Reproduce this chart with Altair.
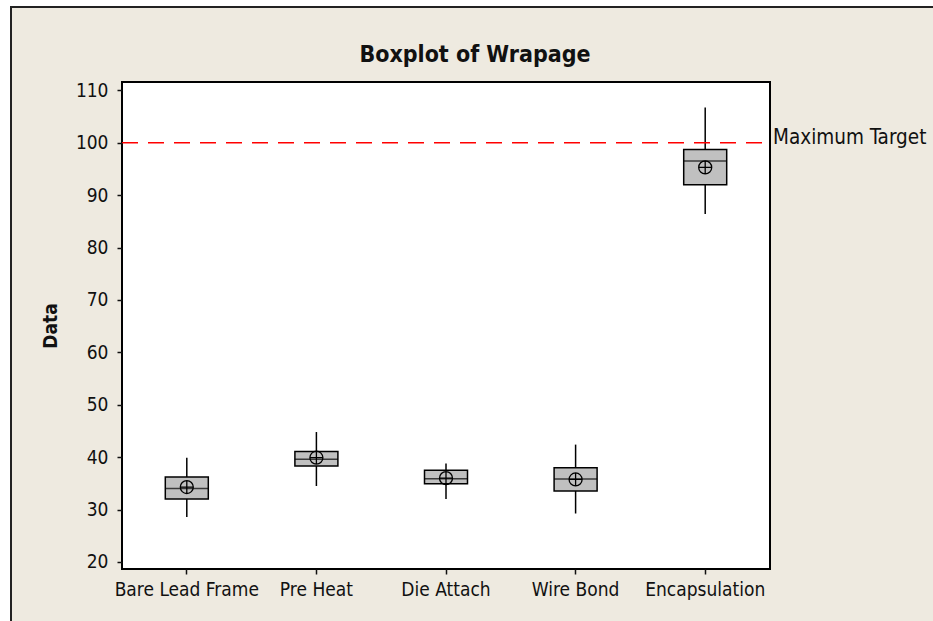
import altair as alt
import pandas as pd

# Warpage by process stage
stages = ["Bare Lead Frame", "Pre Heat", "Die Attach", "Wire Bond", "Encapsulation"]
whisker_low = [28.6, 34.5, 32.0, 29.25, 86.4]
q1 = [32.0, 38.3, 34.95, 33.55, 92.0]
median = [34.0, 39.6, 35.9, 35.85, 96.5]
q3 = [36.2, 41.1, 37.5, 38.0, 98.7]
whisker_high = [39.9, 44.8, 38.8, 42.4, 106.75]
mean = [34.3, 39.9, 36.0, 35.75, 95.3]
y_ticks = [20, 30, 40, 50, 60, 70, 80, 90, 100, 110]
target = 100
title_text = "Boxplot of Wrapage"
target_text = "Maximum Target"

W, H = 648, 487
PAD = {"left": 122, "top": 82, "right": 163, "bottom": 52}

LABEL_FONT = "DejaVu Sans Condensed, DejaVu Sans"
CREAM = "#EEEAE0"
INK = "#111111"

df = pd.DataFrame({
    "stage": stages,
    "low": whisker_low,
    "q1": q1,
    "median": median,
    "q3": q3,
    "high": whisker_high,
    "mean": mean,
})
one = pd.DataFrame({"k": [0]})

x_scale = alt.Scale(domain=stages, paddingInner=0, paddingOuter=0)
y_scale = alt.Scale(domain=[18.66, 111.6], nice=False, zero=False)

x_axis = alt.Axis(
    title=None, labelAngle=0, labelFont=LABEL_FONT, labelFontSize=19,
    labelColor=INK, labelPadding=6, tickSize=5, tickWidth=1.5, tickColor=INK,
    domain=False, grid=False, zindex=2,
)
y_axis = alt.Axis(
    title="Data", titleFont=LABEL_FONT, titleFontSize=19, titleFontWeight="bold",
    titleColor=INK, titleAngle=-90, titleX=-72, titleY=H / 2,
    titleBaseline="middle", titleAlign="center",
    values=y_ticks, labelFont=LABEL_FONT, labelFontSize=19, labelColor=INK,
    labelPadding=9, tickSize=5, tickWidth=1.5, tickColor=INK,
    domain=False, grid=False, zindex=2,
)

# page panel and frame
panel = alt.Chart(one).mark_rect(fill=CREAM).encode(
    x=alt.value(-112), x2=alt.value(W + PAD["right"]),
    y=alt.value(-76), y2=alt.value(H + PAD["bottom"]),
)
panel_left = alt.Chart(one).mark_rule(color="#222", strokeWidth=2).encode(
    x=alt.value(-111), y=alt.value(-76), y2=alt.value(H + PAD["bottom"]),
)
panel_top = alt.Chart(one).mark_rule(color="#222", strokeWidth=2).encode(
    x=alt.value(-112), x2=alt.value(W + PAD["right"]), y=alt.value(-75),
)
plot_bg = alt.Chart(one).mark_rect(fill="white", stroke="#000", strokeWidth=2).encode(
    x=alt.value(0), x2=alt.value(W), y=alt.value(0), y2=alt.value(H),
)
title = alt.Chart(one).mark_text(
    text=title_text, align="center", baseline="alphabetic",
    font=LABEL_FONT, fontSize=23, fontWeight="bold", color=INK,
).encode(x=alt.value(W / 2 + 29), y=alt.value(-20))

base = alt.Chart(df)
whiskers = base.mark_rule(color="#000", strokeWidth=1.5).encode(
    x=alt.X("stage:N", scale=x_scale, axis=x_axis, sort=stages),
    y=alt.Y("low:Q", scale=y_scale, axis=y_axis),
    y2="high:Q",
)
boxes = base.mark_bar(size=43, fill="#C0C0C0", stroke="#000", strokeWidth=1.5).encode(
    x=alt.X("stage:N", sort=stages),
    y="q1:Q",
    y2="q3:Q",
)
medians = base.mark_tick(size=43, thickness=1.5, color="#000").encode(
    x=alt.X("stage:N", sort=stages),
    y="median:Q",
)
means = base.mark_point(
    shape="M-1,0A1,1,0,1,1,1,0A1,1,0,1,1,-1,0M-1,0L1,0M0,-1L0,1",
    size=169, filled=False, stroke="#000", strokeWidth=1.3, opacity=1,
).encode(
    x=alt.X("stage:N", sort=stages),
    y="mean:Q",
)
target_line = alt.Chart(one).mark_rule(
    color="#FF0000", strokeWidth=1.5, strokeDash=[16, 10]
).encode(x=alt.value(0), x2=alt.value(W), y=alt.datum(target))
target_label = alt.Chart(one).mark_text(
    text=target_text, align="left", baseline="alphabetic",
    font=LABEL_FONT, fontSize=20.5, color=INK, dy=1,
).encode(x=alt.value(W + 3), y=alt.datum(target))

chart = alt.layer(
    panel, panel_left, panel_top, plot_bg, title,
    whiskers, boxes, medians, means, target_line, target_label,
).properties(
    width=W, height=H,
    padding=PAD,
    autosize=alt.AutoSizeParams(type="none"),
    background="white",
).configure_view(stroke=None)

chart.save("out.html", embed_options={"renderer": "svg", "actions": False})
